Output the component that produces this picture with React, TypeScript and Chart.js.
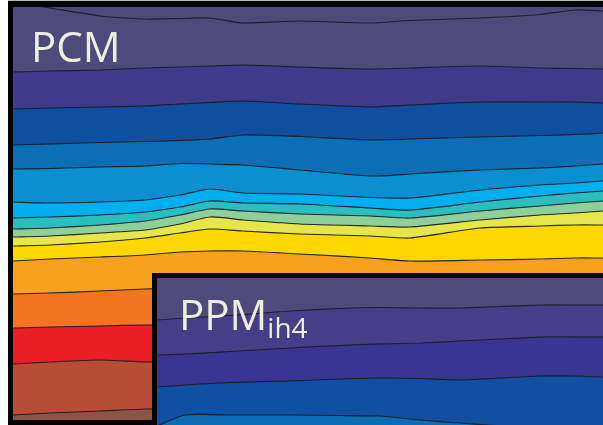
import React, { useEffect, useRef } from "react";
import { Chart, registerables } from "chart.js";

Chart.register(...registerables);

// ---- PCM panel (main) : contour lines, x positions and depth values ----
const PCM_X = [13, 50, 100, 145, 180, 210, 243, 300, 370, 410, 480, 540, 575, 603];
const pcm1 = [2, 8, 16, 19, 18.5, 18, 23, 21, 23, 20.5, 18, 14.5, 10, 11];
const pcm2 = [72, 71, 70, 68, 67, 66, 65, 67, 69, 68, 66, 68, 68.5, 69];
const pcm3 = [109, 108, 107, 106, 104, 102.5, 101, 104, 107, 105, 102, 102, 102, 103];
const pcm4 = [145, 144, 142.5, 141.5, 140.5, 139, 135, 136.5, 140, 139, 137, 135.5, 134.5, 133];
const pcm5 = [169, 168.5, 167, 166, 163.5, 164, 165, 170, 176, 174, 170, 168, 166, 164];
const pcm6 = [202, 203, 202, 200, 195, 189, 193, 194, 197.5, 198, 190, 185, 183, 181];
const pcm7 = [218, 217, 215, 212, 207, 201, 203, 204, 208, 210, 202, 196, 193, 191];
const pcm8 = [229, 228, 225, 221, 215, 209, 211, 214, 216, 218, 211, 206, 203, 201];
const pcm9 = [237, 236, 233, 230, 224, 217, 220, 224, 226, 227, 220, 215, 213, 211];
const pcm10 = [246, 245, 242, 238, 233, 229, 231, 234, 236, 238, 228, 226, 225, 225];
const pcm11 = [261, 259, 257, 255, 252, 251, 251, 254, 258, 261, 260, 259, 258, 258];
const pcm12 = [294, 293, 291, 289, 288, 288, 288, 288, 288, 288, 288, 288, 288, 288];
const pcm13 = [328, 327, 326, 325, 325, 325, 325, 325, 325, 325, 325, 325, 325, 325];
const pcm14 = [364, 362, 360, 362, 362, 362, 362, 362, 362, 362, 362, 362, 362, 362];
const pcm15 = [415, 413, 411, 409, 409, 409, 409, 409, 409, 409, 409, 409, 409, 409];
const PCM_LINES = [pcm1, pcm2, pcm3, pcm4, pcm5, pcm6, pcm7, pcm8, pcm9, pcm10, pcm11, pcm12, pcm13, pcm14, pcm15];

// ---- PPM_ih4 panel (inset) ----
const PPM_X = [157, 185, 230, 290, 340, 380, 420, 460, 500, 540, 575, 603];
const ppmA = [320, 318, 315.5, 311, 308.5, 307.5, 308, 308, 306.5, 305, 305, 305];
const ppmB = [355, 354, 351.5, 348, 345.5, 344, 343, 341, 339, 337, 337, 337];
const ppmC = [387, 385, 382.5, 381, 379, 378, 378.5, 380, 378, 376, 376, 377];
const ppmD = [426, 415, 415, 415, 415.5, 416, 420, 423, 426, 428, 430, 432];
const PPM_LINES = [ppmA, ppmB, ppmC, ppmD];

// ---- styles ----
const PCM_TOP = "#4E4A7B";
const PCM_BANDS = [
  "#4E4A7B", "#3F3A89", "#0F4FA0", "#0A6FB5", "#0A8FD0", "#00AFEE", "#2ABEBE",
  "#8FD098", "#E6E64A", "#FED800", "#F8A01F", "#F37521", "#EC1D25", "#B84D36", "#8D5443",
];
const PPM_TOP = "#4E4A7B";
const PPM_BANDS = ["#463F87", "#3A3591", "#0F50A2", "#0A6DB6"];
const LINE_COLOR = "rgba(25,25,35,0.9)";
const TEXT_COLOR = "#EFEDE0";

function buildDatasets(xs: number[], lines: number[][], colors: string[], bottomValue: number) {
  return lines.map((ys, i) => ({
    data: xs.map((x, j) => ({ x, y: ys[j] })),
    borderColor: LINE_COLOR,
    borderWidth: 1.2,
    pointRadius: 0,
    tension: 0.2,
    backgroundColor: colors[i],
    fill: i < lines.length - 1 ? "+1" : { value: bottomValue },
  }));
}

type PanelProps = {
  xs: number[];
  lines: number[][];
  colors: string[];
  top: string;
  xMin: number;
  xMax: number;
  yMin: number;
  yMax: number;
  left: number;
  topPx: number;
};

function Panel({ xs, lines, colors, top, xMin, xMax, yMin, yMax, left, topPx }: PanelProps) {
  const ref = useRef<HTMLCanvasElement | null>(null);
  const width = xMax - xMin;
  const height = yMax - yMin;
  useEffect(() => {
    if (!ref.current) return;
    const chart = new Chart(ref.current, {
      type: "line",
      data: { datasets: buildDatasets(xs, lines, colors, yMax + 500) as any },
      options: {
        animation: false,
        responsive: false,
        maintainAspectRatio: false,
        events: [],
        layout: { padding: 0 },
        scales: {
          x: { type: "linear", min: xMin, max: xMax, display: false },
          y: { type: "linear", min: yMin, max: yMax, reverse: true, display: false },
        },
        plugins: {
          legend: { display: false },
          tooltip: { enabled: false },
          filler: { drawTime: "beforeDatasetsDraw", propagate: false },
        } as any,
      },
    });
    return () => chart.destroy();
  }, []);
  return (
    <canvas
      ref={ref}
      width={width}
      height={height}
      style={{ position: "absolute", left, top: topPx, width, height, background: top, display: "block" }}
    />
  );
}

export default function App() {
  const font = "'Open Sans', 'Noto Sans', sans-serif";
  return (
    <div style={{ position: "fixed", left: 0, top: 0, width: 603, height: 425, overflow: "hidden", background: "#fff" }}>
      <div style={{ position: "absolute", left: 8, top: 0, width: 620, height: 1, background: "#bbb" }} />
      <div style={{ position: "absolute", left: 8, top: 1, width: 620, height: 424, background: "#000" }} />
      <Panel xs={PCM_X} lines={PCM_LINES} colors={PCM_BANDS} top={PCM_TOP} xMin={13} xMax={603} yMin={7} yMax={420} left={13} topPx={7} />
      <div style={{ position: "absolute", left: 31, top: 25, fontFamily: font, fontSize: 42, lineHeight: 1, color: TEXT_COLOR, whiteSpace: "nowrap" }}>
        PCM
      </div>
      <div style={{ position: "absolute", left: 152, top: 273, width: 470, height: 160, background: "#000" }} />
      <Panel xs={PPM_X} lines={PPM_LINES} colors={PPM_BANDS} top={PPM_TOP} xMin={157} xMax={603} yMin={278} yMax={425} left={157} topPx={278} />
      <div style={{ position: "absolute", left: 179, top: 293, fontFamily: font, fontSize: 42, lineHeight: 1, color: TEXT_COLOR, whiteSpace: "nowrap" }}>
        PPM<span style={{ fontSize: 28, position: "relative", top: 8 }}>ih4</span>
      </div>
    </div>
  );
}
